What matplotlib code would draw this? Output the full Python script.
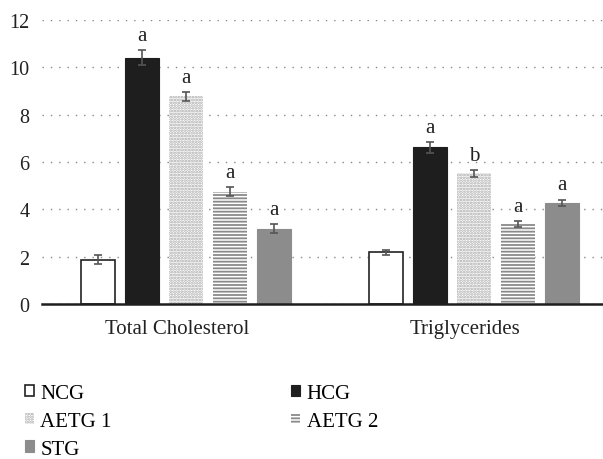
import numpy as np
import matplotlib.pyplot as plt
from matplotlib.patches import Patch

plt.rcParams['font.family'] = ['Liberation Serif', 'DejaVu Serif']
plt.rcParams['hatch.linewidth'] = 1.3

categories = ["Total Cholesterol", "Triglycerides"]
groups = ["NCG", "HCG", "AETG 1", "AETG 2", "STG"]
values = {
    "NCG": [1.88, 2.18],
    "HCG": [10.42, 6.62],
    "AETG 1": [8.78, 5.52],
    "AETG 2": [4.75, 3.38],
    "STG": [3.18, 4.28],
}
errors = {
    "NCG": [0.2, 0.1],
    "HCG": [0.3, 0.22],
    "AETG 1": [0.18, 0.15],
    "AETG 2": [0.2, 0.13],
    "STG": [0.2, 0.13],
}
letters = {
    "NCG": ["", ""],
    "HCG": ["a", "a"],
    "AETG 1": ["a", "b"],
    "AETG 2": ["a", "a"],
    "STG": ["a", "a"],
}

styles = {
    "NCG": dict(facecolor="white", edgecolor="#222222", linewidth=1.2),
    "HCG": dict(facecolor="#1e1e1e", edgecolor="#1e1e1e", linewidth=0.8),
    "AETG 1": dict(facecolor="white", edgecolor="#a8a8a8", hatch="......", linewidth=0),
    "AETG 2": dict(facecolor="white", edgecolor="#8a8a8a", hatch="-----", linewidth=0),
    "STG": dict(facecolor="#8c8c8c", edgecolor="#8c8c8c", linewidth=0.8),
}

fig = plt.figure(figsize=(6.03, 4.60), dpi=100)
ax = fig.add_axes([0.070, 0.337, 0.93, 0.617])

x = np.arange(len(categories))
width = 0.118
step = 0.153

handles = {}
for i, g in enumerate(groups):
    pos = x + (i - 2) * step
    ax.bar(pos, values[g], width, **styles[g], zorder=3)
    ax.errorbar(pos, values[g], yerr=errors[g], fmt="none", ecolor="#555555",
                elinewidth=1.2, capsize=3, capthick=1.2, zorder=4)
    for p, v, e, t in zip(pos, values[g], errors[g], letters[g]):
        if t:
            ax.text(p, v + e + 0.22, t, ha="center", va="bottom", fontsize=15, color="#222222")
    handles[g] = Patch(**styles[g])

ax.set_xlim(-0.498, 1.448)
ax.set_ylim(0, 12)
ax.set_yticks(range(0, 13, 2))
ax.set_xticks(x - 0.03)
ax.set_xticklabels(categories, fontsize=15, color="#222222")
ax.tick_params(axis="y", labelsize=14.5, colors="#222222", length=0, pad=9)
ax.tick_params(axis="x", length=0, pad=11)
ax.yaxis.grid(True, linestyle=(0, (1, 5)), color="#888888", linewidth=1.0, zorder=0)
for s in ["top", "right", "left"]:
    ax.spines[s].set_visible(False)
ax.spines["bottom"].set_linewidth(1.8)
ax.spines["bottom"].set_color("#1e1e1e")
ax.spines["bottom"].set_zorder(5)

order = ["NCG", "AETG 1", "STG", "HCG", "AETG 2"]
fig.legend([handles[g] for g in order], order, loc="upper left",
           bbox_to_anchor=(0.041, 0.163), ncol=2, frameon=False,
           fontsize=15, handlelength=0.45, handleheight=0.45, handletextpad=0.3,
           columnspacing=8.6, labelspacing=0.42, borderaxespad=0, borderpad=0)

plt.savefig("out.png", dpi=100)
